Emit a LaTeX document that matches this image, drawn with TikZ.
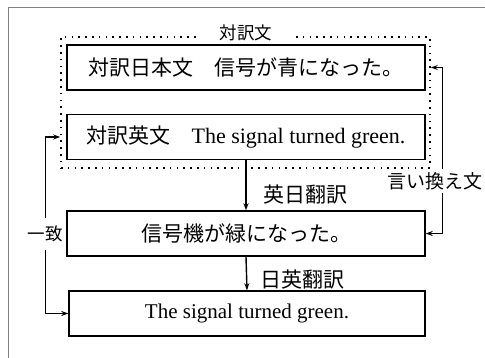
\documentclass[tikz,border=0pt]{standalone}
\usepackage{fontspec}
\setmainfont{Liberation Serif}
\newfontfamily\jp{Noto Sans CJK JP}
\usetikzlibrary{arrows.meta}
\begin{document}
\begin{tikzpicture}[x=1pt,y=-1pt,
  box/.style={draw,line width=1.4pt,minimum width=358pt,minimum height=45pt,inner sep=0pt,font=\fontsize{21}{21}\selectfont},
  lbl/.style={fill=white,inner sep=1pt},
  conn/.style={line width=1.4pt,-{Stealth[length=7pt,width=5pt]}},
  conntwo/.style={line width=1.4pt,{Stealth[length=7pt,width=5pt]}-{Stealth[length=7pt,width=5pt]}},
  dotbox/.style={draw,line width=1.6pt,dash pattern=on 1.6pt off 5.2pt,minimum width=369pt,minimum height=131pt,inner sep=0pt}]
\useasboundingbox (0,0) rectangle (485,358);
\draw[gray,line width=0.8pt] (8,358) -- (8,7) -- (485,7);
\node[dotbox] (pair) at (245.5,102.5) {};
\node[box] (b1) at (246,67.5) {\jp 対訳日本文　信号が青になった。};
\node[box] (b2) at (246,137) {{\jp 対訳英文　}{\fontsize{22}{22}\selectfont The signal turned green.}};
\node[box] (b3) at (246,233.5) {\jp 信号機が緑になった。};
\node[box,minimum width=356pt] (b4) at (247,313.5) {The signal turned green.};
\node[lbl,minimum width=99pt,font=\jp\fontsize{17.5}{17.5}\selectfont] (lpair) at (246,33) {対訳文};
\draw[conn] (b2.south) -- (b3.north);
\draw[conn] (b3.south) -- (b4.north);
\node[font=\jp\fontsize{21}{21}\selectfont] (lej) at (305,195) {英日翻訳};
\node[font=\jp\fontsize{21}{21}\selectfont] (lje) at (302,280) {日英翻訳};
\draw[conntwo] (b3.east) -- ++(17,0) |- (pair.east |- b1.east);
\draw[conntwo] (b4.west) -- ++(-23,0) |- (pair.west |- b2.west);
\node[lbl,inner ysep=3pt,font=\jp\fontsize{19}{19}\selectfont] (lpara) at (435,181) {言い換え文};
\node[lbl,inner ysep=8pt,font=\jp\fontsize{17.5}{17.5}\selectfont] (lmatch) at (45,234) {一致};
\end{tikzpicture}
\end{document}
